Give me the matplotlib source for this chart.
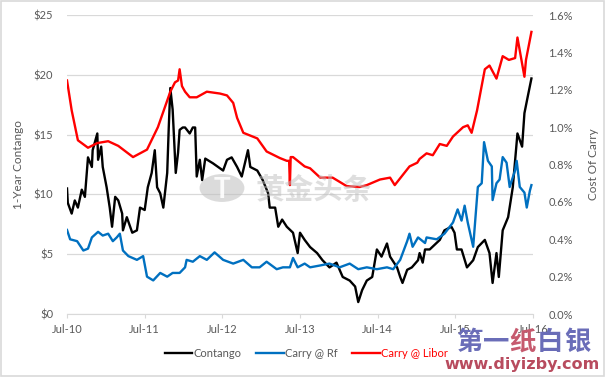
import matplotlib.pyplot as plt
from matplotlib.patches import Rectangle, Circle

plt.rcParams['font.family'] = ['Lato', 'DejaVu Sans']

# decimal years
contango_t = [2010.50, 2010.51, 2010.56, 2010.60, 2010.64, 2010.69, 2010.73, 2010.77,
              2010.82, 2010.83, 2010.89, 2010.90, 2010.94, 2010.96, 2011.01, 2011.05,
              2011.08, 2011.12, 2011.16, 2011.21, 2011.22, 2011.27, 2011.34, 2011.40,
              2011.44, 2011.50, 2011.54, 2011.59, 2011.63, 2011.66, 2011.70, 2011.74,
              2011.79, 2011.81, 2011.83, 2011.86, 2011.90, 2011.93, 2011.95, 2011.99,
              2012.02, 2012.08, 2012.12, 2012.15, 2012.17, 2012.21, 2012.24, 2012.28,
              2012.38, 2012.51, 2012.56, 2012.62, 2012.69, 2012.75, 2012.83, 2012.86,
              2012.95, 2013.02, 2013.09, 2013.11, 2013.18, 2013.22, 2013.27, 2013.33,
              2013.41, 2013.47, 2013.50, 2013.56, 2013.63, 2013.72, 2013.79, 2013.88,
              2013.97, 2014.05, 2014.14, 2014.21, 2014.25, 2014.30, 2014.36, 2014.43,
              2014.49, 2014.55, 2014.62, 2014.66, 2014.75, 2014.79, 2014.82, 2014.88,
              2014.94, 2015.02, 2015.04, 2015.08, 2015.11, 2015.17, 2015.30, 2015.36,
              2015.45, 2015.49, 2015.52, 2015.58, 2015.65, 2015.73, 2015.79, 2015.88,
              2015.94, 2015.98, 2016.03, 2016.06, 2016.11, 2016.18, 2016.24, 2016.30,
              2016.36, 2016.39, 2016.43, 2016.48]
contango = [10.5, 9.3, 8.4, 9.5, 8.9, 10.4, 9.8, 13.1,
            12.3, 13.7, 15.1, 12.9, 14.0, 12.3, 10.6, 8.9,
            7.3, 9.8, 9.5, 8.4, 7.0, 8.1, 6.8, 7.0,
            8.9, 8.7, 10.6, 11.8, 13.7, 10.6, 10.1, 8.9,
            11.8, 15.6, 18.9, 17.1, 11.8, 13.5, 15.4, 15.6,
            15.6, 15.1, 15.6, 15.6, 11.5, 12.9, 11.2, 13.0,
            12.6, 12.0, 12.9, 13.1, 12.3, 11.5, 13.7, 12.3,
            12.0, 11.2, 10.1, 8.9, 8.9, 7.3, 7.9, 7.3,
            6.8, 5.1, 6.8, 6.2, 5.6, 5.1, 4.5, 3.9,
            4.3, 3.1, 2.8, 2.3, 1.0, 2.0, 2.8, 3.1,
            5.4, 4.8, 5.9, 4.8, 3.9, 3.1, 2.6, 3.7,
            3.9, 4.5, 5.1, 4.3, 5.4, 5.4, 6.2, 7.0,
            7.3, 6.8, 5.4, 5.4, 3.9, 4.5, 5.6, 6.2,
            5.1, 2.6, 5.1, 3.1, 7.0, 8.1, 10.6, 15.1,
            14.0, 16.8, 18.1, 19.7]

rf_t = [2010.50, 2010.54, 2010.63, 2010.71, 2010.77, 2010.82, 2010.90, 2010.96,
        2011.03, 2011.09, 2011.14, 2011.18, 2011.22, 2011.29, 2011.40, 2011.48,
        2011.53, 2011.61, 2011.70, 2011.79, 2011.86, 2011.95, 2012.02, 2012.04,
        2012.12, 2012.21, 2012.30, 2012.40, 2012.51, 2012.64, 2012.77, 2012.88,
        2012.98, 2013.07, 2013.20, 2013.28, 2013.37, 2013.41, 2013.47, 2013.56,
        2013.63, 2013.76, 2013.88, 2014.01, 2014.14, 2014.25, 2014.36, 2014.49,
        2014.62, 2014.70, 2014.79, 2014.88, 2014.91, 2014.95, 2015.02, 2015.11,
        2015.13, 2015.26, 2015.36, 2015.47, 2015.53, 2015.58, 2015.62, 2015.66,
        2015.73, 2015.79, 2015.84, 2015.87, 2015.92, 2015.97, 2015.98, 2016.03,
        2016.07, 2016.11, 2016.16, 2016.20, 2016.27, 2016.29, 2016.33, 2016.39,
        2016.42, 2016.46, 2016.48]
carry_rf = [0.45, 0.40, 0.39, 0.34, 0.35, 0.41, 0.44, 0.42,
            0.43, 0.39, 0.41, 0.43, 0.34, 0.31, 0.29, 0.31,
            0.20, 0.18, 0.22, 0.20, 0.22, 0.22, 0.25, 0.29,
            0.28, 0.31, 0.29, 0.33, 0.29, 0.27, 0.29, 0.25,
            0.25, 0.28, 0.24, 0.25, 0.25, 0.30, 0.25, 0.27,
            0.25, 0.26, 0.27, 0.25, 0.27, 0.24, 0.25, 0.24,
            0.25, 0.24, 0.29, 0.39, 0.43, 0.36, 0.41, 0.38,
            0.41, 0.40, 0.43, 0.49, 0.56, 0.50, 0.58, 0.49,
            0.36, 0.68, 0.70, 0.92, 0.82, 0.79, 0.61, 0.70,
            0.72, 0.84, 0.81, 0.68, 0.77, 0.82, 0.68, 0.65,
            0.57, 0.66, 0.69]

libor_t = [2010.50, 2010.56, 2010.64, 2010.77, 2010.89, 2011.03, 2011.16, 2011.35,
           2011.53, 2011.67, 2011.83, 2011.89, 2011.93, 2011.95, 2011.98, 2012.02,
           2012.08, 2012.17, 2012.30, 2012.47, 2012.56, 2012.64, 2012.69, 2012.77,
           2012.89, 2012.95, 2013.07, 2013.24, 2013.33, 2013.36, 2013.37, 2013.38,
           2013.41, 2013.56, 2013.63, 2013.76, 2013.92, 2014.10, 2014.27, 2014.36,
           2014.53, 2014.66, 2014.72, 2014.91, 2015.01, 2015.04, 2015.13, 2015.21,
           2015.30, 2015.39, 2015.47, 2015.60, 2015.66, 2015.71, 2015.78, 2015.88,
           2015.94, 2016.03, 2016.11, 2016.19, 2016.27, 2016.30, 2016.39, 2016.41,
           2016.48]
carry_libor = [1.25, 1.09, 0.93, 0.89, 0.915, 0.925, 0.90, 0.84,
               0.88, 1.00, 1.19, 1.24, 1.25, 1.31, 1.22, 1.19,
               1.16, 1.16, 1.19, 1.18, 1.17, 1.13, 1.05, 0.97,
               0.95, 0.94, 0.87, 0.835, 0.82, 0.82, 0.69, 0.84,
               0.84, 0.79, 0.78, 0.73, 0.73, 0.685, 0.68, 0.69,
               0.72, 0.73, 0.69, 0.79, 0.81, 0.83, 0.86, 0.85,
               0.91, 0.90, 0.95, 1.00, 1.01, 0.97, 1.09, 1.31,
               1.33, 1.26, 1.38, 1.36, 1.37, 1.48, 1.27, 1.36,
               1.51]

x_ticks = [2010.5, 2011.5, 2012.5, 2013.5, 2014.5, 2015.5, 2016.5]
x_labels = ['Jul-10', 'Jul-11', 'Jul-12', 'Jul-13', 'Jul-14', 'Jul-15', 'Jul-16']
left_ticks = [0, 5, 10, 15, 20, 25]
right_ticks = [0.0, 0.2, 0.4, 0.6, 0.8, 1.0, 1.2, 1.4, 1.6]
mark_chars = ['第', '一', '纸', '白', '银']
mark_colors = ['#6A6DB8', '#6A6DB8', '#C65A6E', '#6A6DB8', '#6A6DB8']

grey = '#595959'
grid_c = '#D9D9D9'
cjk = ['Noto Sans CJK SC', 'DejaVu Sans']

fig = plt.figure(figsize=(6.06, 3.77), dpi=100)
ax = fig.add_axes([0.1106, 0.167, 0.7689, 0.793])
ax2 = ax.twinx()

l1, = ax.plot(contango_t, contango, color='black', lw=1.7, label='Contango')
l2, = ax2.plot(rf_t, carry_rf, color='#0070C0', lw=1.7, label='Carry @ Rf')
l3, = ax2.plot(libor_t, carry_libor, color='#FF0000', lw=1.7, label='Carry @ Libor')

ax.set_xlim(2010.5, 2016.5)
ax.set_ylim(0, 25)
ax2.set_ylim(0, 1.6)

ax.set_yticks(left_ticks)
ax.set_yticklabels(['$%d' % v for v in left_ticks])
ax2.set_yticks(right_ticks)
ax2.set_yticklabels(['%.1f%%' % v for v in right_ticks])
ax.set_xticks(x_ticks)
ax.set_xticklabels(x_labels)

ax.grid(axis='y', color=grid_c, lw=0.9)
ax.set_axisbelow(True)
for a in (ax, ax2):
    for s in a.spines.values():
        s.set_visible(False)
ax.spines['bottom'].set_visible(True)
ax.spines['bottom'].set_color(grid_c)
ax.tick_params(axis='y', length=0, labelsize=8, labelcolor=grey, pad=10)
ax2.tick_params(axis='y', length=0, labelsize=8, labelcolor=grey, pad=11)
ax.tick_params(axis='x', length=3, color=grid_c, labelsize=8, labelcolor=grey, pad=4)

ax.set_ylabel('1-Year Contango', fontsize=8.5, color=grey, labelpad=7)
ax2.set_ylabel('Cost Of Carry', fontsize=8.5, color=grey, labelpad=11)

leg = fig.legend(handles=[l1, l2, l3], loc='center', bbox_to_anchor=(0.505, 0.062),
                 ncol=3, frameon=False, fontsize=8, handlelength=2.5,
                 handletextpad=0.1, columnspacing=1.3)
for txt, c in zip(leg.get_texts(), [grey, grey, '#FF0000']):
    txt.set_color(c)

# watermarks
fig.patches.append(Circle((222 / 606, 1 - 188 / 377), 0.037, transform=fig.transFigure,
                          facecolor='#BFBFBF', alpha=0.55, edgecolor='none', zorder=10))
fig.text(222 / 606, 1 - 190 / 377, 'T', fontsize=20, color='white', fontweight='bold',
         ha='center', va='center', alpha=0.9, zorder=11)
fig.text(314 / 606, 1 - 190 / 377, '黄金头条', fontsize=21, color='#BFBFBF', alpha=0.5,
         ha='center', va='center', fontweight='bold', zorder=11, family=cjk)
for i, (ch, c) in enumerate(zip(mark_chars, mark_colors)):
    fig.text((469 + 27 * i) / 606, 1 - 342 / 377, ch, fontsize=19, color=c,
             fontweight='bold', ha='center', va='center', family=cjk, zorder=12)
fig.text(522 / 606, 1 - 364 / 377, 'www.diyizby.com', fontsize=11.5, color='#B84B5E',
         fontweight='bold', ha='center', va='center', family=['DejaVu Sans'], zorder=12)

fig.patches.append(Rectangle((0.002, 0.003), 0.995, 0.994, transform=fig.transFigure,
                             fill=False, edgecolor=grid_c, lw=1.2))

fig.savefig('out.png', dpi=100)
